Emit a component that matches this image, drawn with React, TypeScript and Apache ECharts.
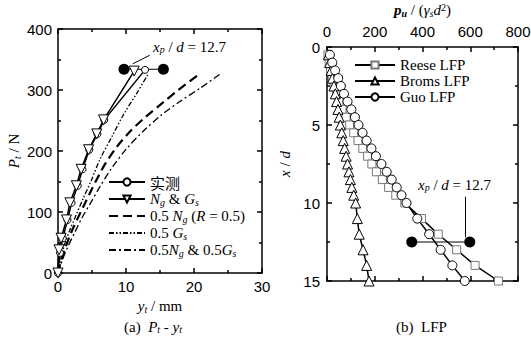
import React, { useEffect, useRef } from 'react';
import * as echarts from 'echarts';

// ---- Left plot (a): Pt - yt ----
const measY = [0, 0.3, 0.7, 1.4, 2.0, 2.9, 3.6, 4.6, 5.8, 6.8, 12.8];
const measP = [0, 33, 57, 87, 115, 143, 170, 202, 228, 251, 333];
const ngsY = [0, 0.15, 0.45, 1.25, 1.75, 2.7, 3.4, 4.5, 5.7, 6.7, 11.2];
const ngsP = [0, 38, 57, 87, 115, 143, 170, 202, 228, 251, 331];
const halfNgY = [0, 0.5, 1.2, 2, 3, 4, 5, 6, 7, 8.6, 10.6, 12.8, 15.5, 17.7, 20.9];
const halfNgP = [0, 22, 45, 68, 92, 115, 138, 160, 180, 206, 232, 255, 280, 300, 327];
const halfGsY = [0, 0.4, 1, 1.8, 2.7, 3.7, 4.9, 6.2, 7.9, 9.6, 11.6, 13.3];
const halfGsP = [0, 22, 48, 72, 96, 122, 152, 187, 223, 259, 295, 327];
const halfBothY = [0, 0.6, 1.4, 2.4, 3.5, 4.8, 6.2, 7.9, 10.1, 12.5, 15.2, 17.9, 20.9, 24.1];
const halfBothP = [0, 20, 42, 65, 90, 115, 142, 172, 204, 232, 259, 281, 303, 328];
const xpLeftY = [9.7, 15.5];
const xpLeftP = [334, 334];

// ---- Right plot (b): LFP ----
const depth = [0.5, 1, 1.5, 2, 2.5, 3, 3.5, 4, 4.5, 5, 5.5, 6, 6.5, 7, 7.5, 8, 8.5, 9, 9.5, 10, 11, 12, 13, 14, 15];
const reese = [4, 9, 15, 22, 30, 40, 50, 63, 80, 95, 112, 130, 150, 170, 188, 207, 232, 258, 288, 326, 396, 466, 543, 620, 718];
const broms = [6, 11, 17, 23, 29, 35, 40, 46, 51, 56, 62, 68, 74, 80, 86, 92, 98, 104, 112, 120, 127, 135, 151, 166, 176];
const guo = [12, 22, 34, 47, 58, 71, 86, 102, 117, 132, 149, 166, 186, 205, 228, 250, 271, 292, 312, 333, 378, 428, 476, 525, 577];
const xpRightV = [355, 598];
const xpRightD = [12.5, 12.5];

const zip = (a: number[], b: number[]) => a.map((v, i) => [v, b[i]]);

const SERIF = 'Liberation Serif';
const SANS = 'Liberation Sans';
const LH = 16;

const rich: any = {
  n: { fontFamily: SERIF, fontSize: 15, color: '#000', lineHeight: LH },
  i: { fontFamily: SERIF, fontSize: 15, fontStyle: 'italic', color: '#000', lineHeight: LH },
  bi: { fontFamily: SERIF, fontSize: 15, fontStyle: 'italic', fontWeight: 'bold', color: '#000', lineHeight: LH },
  s: { fontFamily: SERIF, fontSize: 10, fontStyle: 'italic', color: '#000', verticalAlign: 'bottom', lineHeight: LH },
  bs: { fontFamily: SERIF, fontSize: 10, fontStyle: 'italic', fontWeight: 'bold', color: '#000', verticalAlign: 'bottom', lineHeight: LH },
  sup: { fontFamily: SERIF, fontSize: 10, color: '#000', verticalAlign: 'top', lineHeight: LH },
  c: { fontFamily: 'Noto Sans CJK SC', fontSize: 15, color: '#000', lineHeight: LH },
};

const legendNames: Record<string, string> = {
  meas: '{c|实测}',
  ngs: '{i|N}{s|g}{n| & }{i|G}{s|s}',
  halfNg: '{n|0.5 }{i|N}{s|g}{n| (}{i|R}{n| = 0.5)}',
  halfGs: '{n|0.5 }{i|G}{s|s}',
  halfBoth: '{n|0.5}{i|N}{s|g}{n| & 0.5}{i|G}{s|s}',
  'Reese LFP': '{n|Reese LFP}',
  'Broms LFP': '{n|Broms LFP}',
  'Guo LFP': '{n|Guo LFP}',
};

const axisLineStyle = { lineStyle: { color: '#000', width: 1.5 } };
const tickCommon = { show: true, inside: true, length: 5, lineStyle: { color: '#000', width: 1.5 } };
const minorCommon = { show: true, splitNumber: 2, length: 3, lineStyle: { color: '#000', width: 1.5 } };
const labelStyle = { fontFamily: SANS, fontSize: 15, color: '#000' };
const noSymbolStyle = { color: 'rgba(0,0,0,0)', borderColor: 'rgba(0,0,0,0)', opacity: 0 };

function mkAxis(extra: any) {
  return {
    axisLine: { show: true, onZero: false, ...axisLineStyle },
    axisTick: tickCommon,
    minorTick: minorCommon,
    splitLine: { show: false },
    ...extra,
  };
}

const option: any = {
  animation: false,
  backgroundColor: '#fff',
  grid: [
    { left: 58, top: 29, width: 204, height: 244, outerBoundsMode: 'none', containLabel: false },
    { left: 327, top: 47, width: 191, height: 234, outerBoundsMode: 'none', containLabel: false },
  ],
  xAxis: [
    mkAxis({
      type: 'value', gridIndex: 0, min: 0, max: 30, interval: 10, position: 'bottom',
      axisLabel: { ...labelStyle, margin: 6 },
      name: '{i|y}{s|t}{n| / mm}', nameLocation: 'middle', nameGap: 22,
      nameTextStyle: { rich },
    }),
    mkAxis({ type: 'value', gridIndex: 0, min: 0, max: 30, interval: 10, position: 'top', axisLabel: { show: false } }),
    mkAxis({
      type: 'value', gridIndex: 1, min: 0, max: 800, interval: 200, position: 'top',
      axisLabel: { ...labelStyle, margin: 8 },
      name: '{bi|p}{bs|u}{n| / (}{i|γ}{s|s}{i|d}{sup|2}{n|)}', nameLocation: 'middle', nameGap: 29,
      nameMoveOverlap: false,
      nameTextStyle: { rich },
    }),
    mkAxis({ type: 'value', gridIndex: 1, min: 0, max: 800, interval: 200, position: 'bottom', axisLabel: { show: false } }),
  ],
  yAxis: [
    mkAxis({
      type: 'value', gridIndex: 0, min: 0, max: 400, interval: 100, position: 'left',
      axisLabel: { ...labelStyle, margin: 6 },
      name: '{i|P}{s|t}{n| / N}', nameLocation: 'middle', nameGap: 36, nameRotate: 90,
      nameTextStyle: { rich },
    }),
    mkAxis({ type: 'value', gridIndex: 0, min: 0, max: 400, interval: 100, position: 'right', axisLabel: { show: false } }),
    mkAxis({
      type: 'value', gridIndex: 1, min: 0, max: 15, interval: 5, inverse: true, position: 'left',
      axisLabel: { ...labelStyle, margin: 7 },
      name: '{i|x}{n| / }{i|d}', nameLocation: 'middle', nameGap: 34, nameRotate: 90,
      nameTextStyle: { rich },
    }),
    mkAxis({ type: 'value', gridIndex: 1, min: 0, max: 15, interval: 5, inverse: true, position: 'right', axisLabel: { show: false } }),
  ],
  legend: [
    {
      left: 108, top: 174, orient: 'vertical', itemWidth: 36, itemHeight: 9, itemGap: 1, padding: 0,
      data: ['meas', 'ngs', 'halfNg', 'halfGs', 'halfBoth'],
      formatter: (n: string) => legendNames[n] || n,
      textStyle: { rich, lineHeight: LH },
    },
    {
      left: 354, top: 57, orient: 'vertical', itemWidth: 40, itemHeight: 9, itemGap: 0, padding: 0,
      data: ['Reese LFP', 'Broms LFP', 'Guo LFP'],
      formatter: (n: string) => legendNames[n] || n,
      textStyle: { rich, lineHeight: LH },
    },
  ],
  graphic: [
    {
      type: 'text', left: 153, top: 39,
      style: { text: '{i|x}{s|p}{n| / }{i|d}{n| = 12.7}', rich },
    },
    {
      type: 'text', left: 418, top: 177,
      style: { text: '{i|x}{s|p}{n| / }{i|d}{n| = 12.7}', rich },
    },
    {
      type: 'text', left: 124, top: 319,
      style: { text: '{n|(a)  }{i|P}{s|t}{n| - }{i|y}{s|t}', rich },
    },
    {
      type: 'text', left: 396, top: 319,
      style: { text: '{n|(b)  LFP}', rich },
    },
  ],
  series: [
    {
      name: 'halfNg', type: 'line', xAxisIndex: 0, yAxisIndex: 0, data: zip(halfNgY, halfNgP),
      symbol: 'none', smooth: 0.3, itemStyle: noSymbolStyle,
      lineStyle: { color: '#000', width: 2.2, type: [9, 5] },
    },
    {
      name: 'halfGs', type: 'line', xAxisIndex: 0, yAxisIndex: 0, data: zip(halfGsY, halfGsP),
      symbol: 'none', smooth: 0.3, itemStyle: noSymbolStyle,
      lineStyle: { color: '#000', width: 1.3, type: [5, 2, 1.5, 2, 1.5, 2] },
    },
    {
      name: 'halfBoth', type: 'line', xAxisIndex: 0, yAxisIndex: 0, data: zip(halfBothY, halfBothP),
      symbol: 'none', smooth: 0.3, itemStyle: noSymbolStyle,
      lineStyle: { color: '#000', width: 1.3, type: [7, 3, 2, 3] },
    },
    {
      name: 'xpL', type: 'line', xAxisIndex: 0, yAxisIndex: 0, data: zip(xpLeftY, xpLeftP),
      symbol: 'circle', symbolSize: 11, itemStyle: { color: '#000' }, lineStyle: { color: '#000', width: 1 },
      markLine: {
        silent: true, symbol: ['none', 'arrow'], symbolSize: [0, 8], label: { show: false },
        lineStyle: { color: '#000', width: 1, type: 'solid' },
        data: [[{ coord: [13.5, 357] }, { coord: [11.0, 343] }]],
      },
    },
    {
      name: 'meas', type: 'line', xAxisIndex: 0, yAxisIndex: 0, data: zip(measY, measP),
      symbol: 'circle', symbolSize: 7, showAllSymbol: true,
      itemStyle: { color: '#fff', borderColor: '#000', borderWidth: 1 }, lineStyle: { color: '#000', width: 1.5 },
    },
    {
      name: 'ngs', type: 'line', xAxisIndex: 0, yAxisIndex: 0, data: zip(ngsY, ngsP),
      symbol: 'triangle', symbolRotate: 180, symbolSize: 10, showAllSymbol: true,
      itemStyle: { color: '#fff', borderColor: '#000', borderWidth: 1 }, lineStyle: { color: '#000', width: 1.5 },
    },
    {
      name: 'xpR', type: 'line', xAxisIndex: 2, yAxisIndex: 2, data: zip(xpRightV, xpRightD),
      symbol: 'circle', symbolSize: 11, itemStyle: { color: '#000' }, lineStyle: { color: '#000', width: 1 },
      markLine: {
        silent: true, symbol: ['none', 'arrow'], symbolSize: [0, 8], label: { show: false },
        lineStyle: { color: '#000', width: 1, type: 'solid' },
        data: [[{ coord: [577, 9.6] }, { coord: [577, 12.2] }]],
      },
    },
    {
      name: 'Reese LFP', type: 'line', xAxisIndex: 2, yAxisIndex: 2, data: zip(reese, depth),
      symbol: 'rect', symbolSize: 8, showAllSymbol: true,
      itemStyle: { color: '#fff', borderColor: '#777', borderWidth: 1 }, lineStyle: { color: '#000', width: 1.5 },
    },
    {
      name: 'Broms LFP', type: 'line', xAxisIndex: 2, yAxisIndex: 2, data: zip(broms, depth),
      symbol: 'triangle', symbolSize: 10, showAllSymbol: true,
      itemStyle: { color: '#fff', borderColor: '#000', borderWidth: 1 }, lineStyle: { color: '#000', width: 1.5 },
    },
    {
      name: 'Guo LFP', type: 'line', xAxisIndex: 2, yAxisIndex: 2, data: zip(guo, depth),
      symbol: 'circle', symbolSize: 9, showAllSymbol: true,
      itemStyle: { color: '#fff', borderColor: '#000', borderWidth: 1 }, lineStyle: { color: '#000', width: 1.5 },
    },
  ],
};

export default function App() {
  const ref = useRef<HTMLDivElement>(null);
  useEffect(() => {
    const chart = echarts.init(ref.current!, null, { renderer: 'svg' });
    chart.setOption(option);
    return () => chart.dispose();
  }, []);
  return (
    <div
      ref={ref}
      style={{ position: 'fixed', left: 0, top: 0, width: 531, height: 341, background: '#fff' }}
    />
  );
}
